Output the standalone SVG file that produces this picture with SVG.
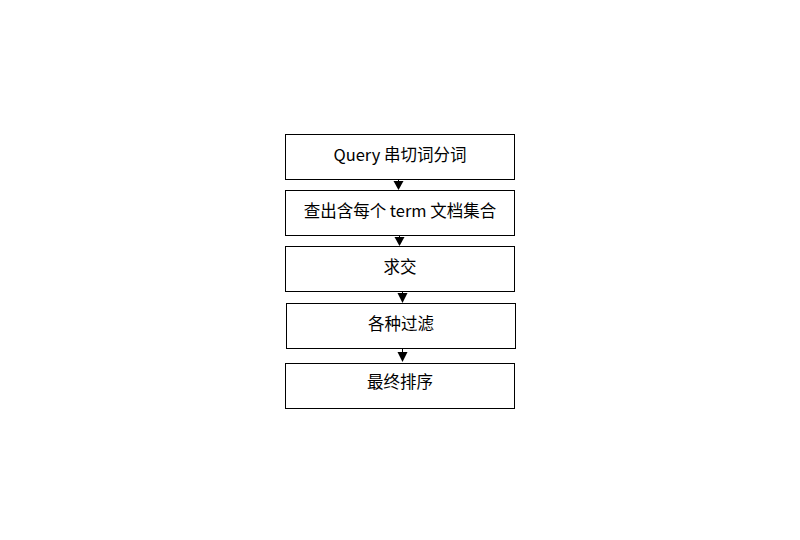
<svg xmlns="http://www.w3.org/2000/svg" width="800" height="540" viewBox="0 0 800 540">
<style>
.box{fill:#fff;stroke:#000;stroke-width:1}
.lbl{font-family:"Microsoft YaHei","Noto Sans CJK SC",sans-serif;font-size:16.5px;fill:#000;text-anchor:middle}
.ah{fill:#000}
.ln{stroke:#000;stroke-width:1}
</style>
<rect width="800" height="540" fill="#fff"/>
<g id="n1"><rect class="box" x="285.5" y="134.5" width="229" height="45"/><text class="lbl" x="400" y="160.5">Query 串切词分词</text></g>
<g id="n2"><rect class="box" x="285.5" y="190.5" width="229" height="45"/><text class="lbl" x="400" y="216.5">查出含每个 term 文档集合</text></g>
<g id="n3"><rect class="box" x="285.5" y="246.5" width="229" height="45"/><text class="lbl" x="400" y="272.5">求交</text></g>
<g id="n4"><rect class="box" x="286.5" y="303.5" width="229" height="45"/><text class="lbl" x="401" y="329.5">各种过滤</text></g>
<g id="n5"><rect class="box" x="285.5" y="363.5" width="229" height="45"/><text class="lbl" x="400" y="388">最终排序</text></g>
<g id="connectors">
<line class="ln" x1="398.5" y1="180" x2="398.5" y2="182"/><polygon class="ah" points="393.5,181 403.5,181 398.5,190"/>
<line class="ln" x1="399.5" y1="236" x2="399.5" y2="238"/><polygon class="ah" points="394.5,237 404.5,237 399.5,246"/>
<line class="ln" x1="402.5" y1="292" x2="402.5" y2="294"/><polygon class="ah" points="397.5,293 407.5,293 402.5,303"/>
<line class="ln" x1="402.5" y1="349" x2="402.5" y2="353"/><polygon class="ah" points="397.5,352 407.5,352 402.5,362"/>
</g>
</svg>
